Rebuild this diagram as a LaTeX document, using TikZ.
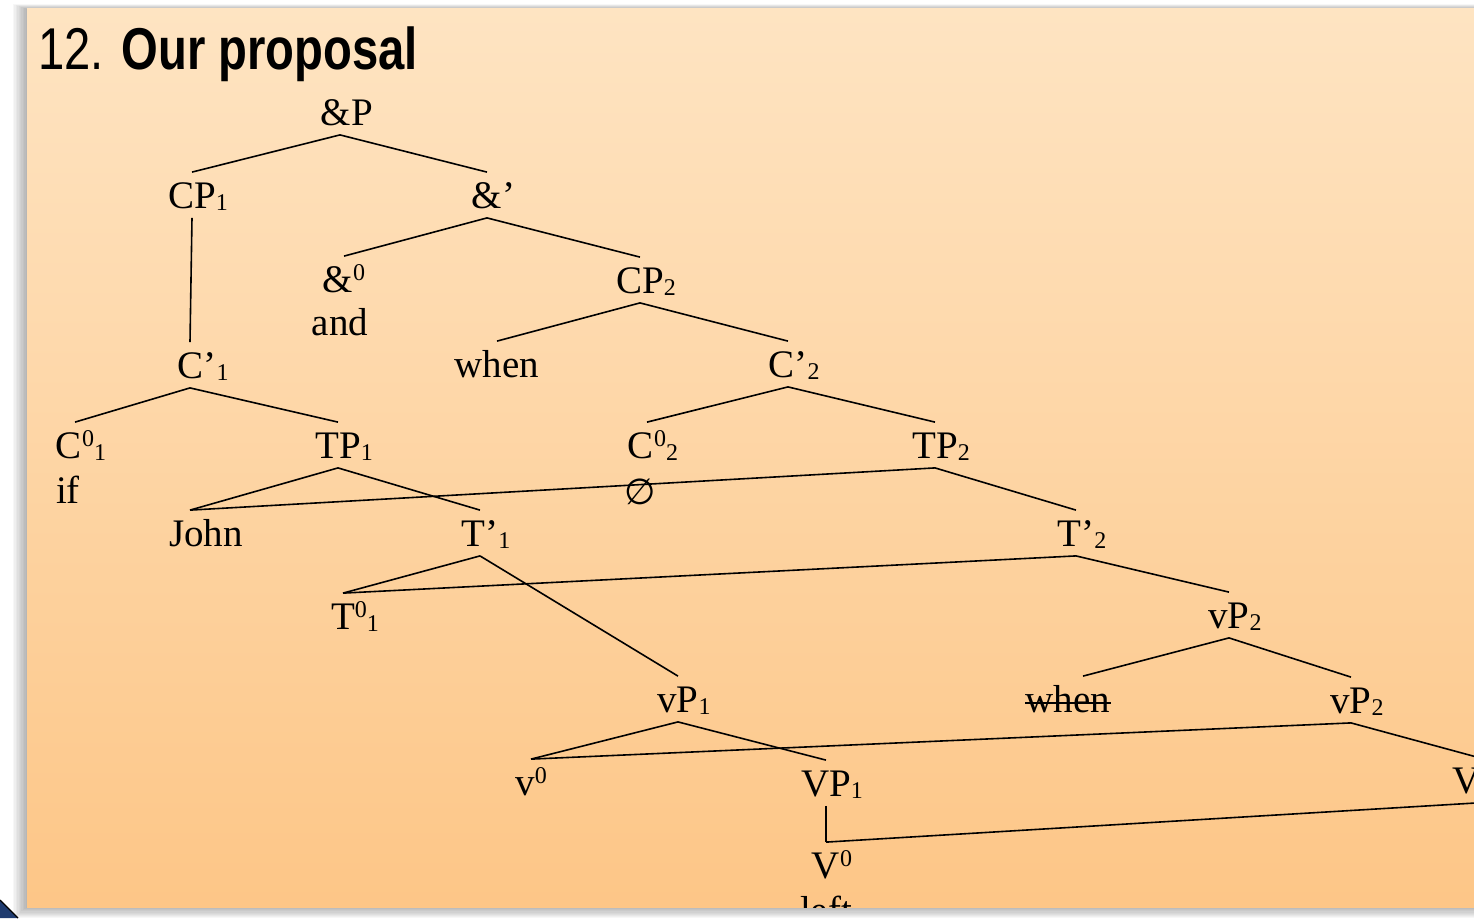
\documentclass[tikz,border=0pt]{standalone}
\usepackage{fontspec}
\setmainfont{Liberation Serif}
\newfontfamily\titlefont{Liberation Sans}
\newfontfamily\symfont{DejaVu Sans}
\usepackage{tikz}
\definecolor{slidetop}{HTML}{FEE4C2}
\definecolor{slidebot}{HTML}{FDC687}
\definecolor{navy}{HTML}{1F3B6F}
\newcommand{\lowidx}[1]{\rlap{\raisebox{-1pt}{\fontsize{12}{12}\selectfont #1}}}
\newcommand{\highidx}[1]{\raisebox{6pt}{\fontsize{12}{12}\selectfont #1}}

\begin{document}
\begin{tikzpicture}[x=0.5pt,y=-0.5pt,font=\fontsize{19.5}{22}\selectfont,
  tn/.style={anchor=base,inner xsep=0pt,inner ysep=4.75pt,text height=13pt,text depth=0pt},
  br/.style={line width=0.8pt}]
\useasboundingbox (0,0) rectangle (1474,918);
\fill[white] (0,0) rectangle (1474,918);
% slide with its shadow
\foreach \i in {1,...,10} \fill[black,opacity=0.03] ({27-1.4*\i},{9-0.5*\i}) rectangle (1490,{907+1.1*\i});
\shade[top color=slidetop,bottom color=slidebot] (27,8) rectangle (1490,907);
\fill[navy] (0,900) -- (18,918) -- (0,918) -- cycle;
\draw[line width=0.6pt] (0,900) -- (18,918);
\begin{scope}
\clip (27,8) rectangle (1474,907);
\node[anchor=base west,inner sep=0pt] (title) at (38,69) {\titlefont\fontsize{29.5}{32}\selectfont\scalebox{0.8}[1]{12. \textbf{Our proposal}}};
% tree
\node[tn] (andP) at (347,125) {\&P};
\node[tn] (CPa) at (192,208) {CP\lowidx{1}};
\node[tn] (andbar) at (487,208) {\&\rlap{’}};
\node[tn] (andzero) at (344,292) {\&\highidx{0}};
\node[tn] (andw) at (340,335) {and};
\node[tn] (CPb) at (640,293) {CP\lowidx{2}};
\node[tn] (whena) at (497,377) {when};
\node[tn] (Cbb) at (788,377) {C’\lowidx{2}};
\node[tn] (Cba) at (197,378) {C’\lowidx{1}};
\node[tn] (Cza) at (75,458) {C\highidx{0}\lowidx{1}};
\node[tn] (ifa) at (68,503) {if};
\node[tn] (TPa) at (338,458) {TP\lowidx{1}};
\node[tn] (Czb) at (647,458) {C\highidx{0}\lowidx{2}};
\node (nul) at (640,492) {\symfont\fontsize{18}{18}\selectfont ∅};
\node[tn] (TPb) at (935,458) {TP\lowidx{2}};
\node[tn] (John) at (206,546) {John};
\node[tn] (Tba) at (480,546) {T’\lowidx{1}};
\node[tn] (Tbb) at (1076,546) {T’\lowidx{2}};
\node[tn] (Tza) at (343,629) {T\rlap{\highidx{0}\lowidx{1}}};
\node[tn] (vPb) at (1229,628) {vP\lowidx{2}};
\node[tn] (vPa) at (678,712) {vP\lowidx{1}};
\node[tn] (whenb) at (1068,712) {when};
\node[tn] (vPc) at (1351,713) {vP\lowidx{2}};
\node[tn] (vza) at (531,795) {v\highidx{0}};
\node[tn] (VPa) at (826,796) {VP\lowidx{1}};
\node[tn] (VPb) at (1477,793) {VP\lowidx{2}};
\node[tn] (Vza) at (826,878) {V\rlap{\highidx{0}}};
\node[tn] (lefta) at (826,923) {left};
\draw[line width=0.8pt] ([yshift=4.5pt]whenb.base west) -- ([yshift=4.5pt]whenb.base east);
\draw[br] ([xshift=-3.5pt]andP.south) -- (CPa.north);
\draw[br] ([xshift=-3.5pt]andP.south) -- (andbar.north);
\draw[br] (CPa.south) -- ([xshift=-3.5pt]Cba.north);
\draw[br] ([xshift=-3.5pt]Cba.south) -- (Cza.north);
\draw[br] ([xshift=-3.5pt]Cba.south) -- (TPa.north);
\draw[br] (TPa.south) -- ([xshift=-8pt]John.north);
\draw[br] (TPb.south) -- ([xshift=-8pt]John.north);
\draw[br] (vPb.south) -- ([xshift=7.5pt]whenb.north);
\foreach \a/\b in {andbar/andzero,andbar/CPb,CPb/whena,CPb/Cbb,Cbb/Czb,Cbb/TPb,
  TPa/Tba,TPb/Tbb,Tba/Tza,Tbb/Tza,Tba/vPa,Tbb/vPb,vPb/vPc,
  vPa/vza,vPc/vza,vPa/VPa,vPc/VPb,VPa/Vza,VPb/Vza}
  \draw[br] (\a.south) -- (\b.north);
\end{scope}
\end{tikzpicture}
\end{document}
